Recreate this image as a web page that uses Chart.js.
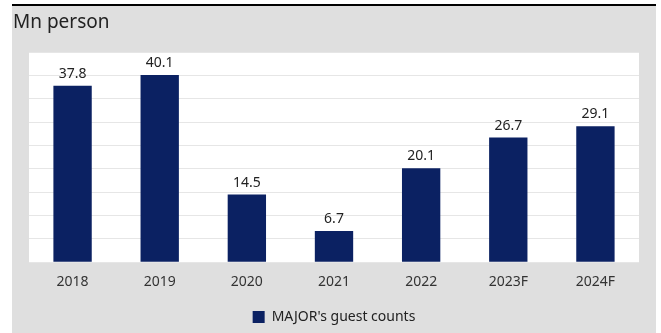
<!DOCTYPE html>
<html>
<head>
<meta charset="utf-8">
<script src="https://cdn.jsdelivr.net/npm/chart.js@4/dist/chart.umd.min.js"></script>
<style>
  html, body { margin: 0; padding: 0; background: #fff; overflow: hidden; }
  #panel {
    position: absolute; left: 12px; top: 4px;
    width: 644px; height: 329px;
    background: #dfdfdf;
    border-top: 2px solid #000;
    box-sizing: border-box;
  }
  #unit {
    position: absolute; left: 1px; top: 2px;
    font: 19px 'Noto Sans', sans-serif; color: #222;
  }
  #wrap { position: absolute; left: 0; top: 0; width: 644px; height: 328px; }
</style>
</head>
<body>
<div id="panel">
  <div id="wrap"><canvas id="guestChart"></canvas></div>
  <div id="unit">Mn person</div>
</div>
<script>
// Guest counts, million persons
const years = ['2018', '2019', '2020', '2021', '2022', '2023F', '2024F'];
const guestCounts = [37.8, 40.1, 14.5, 6.7, 20.1, 26.7, 29.1];
const seriesName = "MAJOR's guest counts";

Chart.defaults.font.family = "'Noto Sans', sans-serif";
Chart.defaults.color = '#333';

// white plot background behind the bars
const plotBg = {
    id: 'plotBg',
    beforeDraw(chart) {
        const a = chart.chartArea;
        const c = chart.ctx;
        c.save();
        c.fillStyle = '#fff';
        c.fillRect(a.left, a.top, a.right - a.left, a.bottom - a.top);
        c.restore();
    }
};

// value labels above each bar
const barValues = {
    id: 'barValues',
    afterDatasetsDraw(chart) {
        const c = chart.ctx;
        const meta = chart.getDatasetMeta(0);
        c.save();
        c.font = "14px 'Noto Sans', sans-serif";
        c.fillStyle = '#222';
        c.textAlign = 'center';
        c.textBaseline = 'alphabetic';
        meta.data.forEach((bar, i) => {
            c.fillText(guestCounts[i].toFixed(1), bar.x, bar.y - 8);
        });
        c.restore();
    }
};

new Chart(document.getElementById('guestChart'), {
    type: 'bar',
    data: {
        labels: years,
        datasets: [{
            label: seriesName,
            data: guestCounts,
            backgroundColor: '#0b2162',
            borderWidth: 0,
            categoryPercentage: 1,
            barPercentage: 0.44
        }]
    },
    options: {
        responsive: true,
        maintainAspectRatio: false,
        animation: false,
        layout: { padding: { left: 17, right: 17, top: 46, bottom: 0 } },
        plugins: {
            legend: {
                position: 'bottom',
                labels: {
                    boxWidth: 12, boxHeight: 12, padding: 17,
                    color: '#222',
                    font: { size: 14 }
                }
            },
            tooltip: { enabled: false }
        },
        scales: {
            x: {
                grid: { display: false },
                border: { display: false },
                ticks: { font: { size: 14, lineHeight: 1.05 }, color: '#333', padding: 4 }
            },
            y: {
                min: 0, max: 45,
                ticks: { display: false, stepSize: 5 },
                border: { display: false },
                grid: { color: '#e6e6e6', lineWidth: 1, drawTicks: false }
            }
        }
    },
    plugins: [plotBg, barValues]
});
</script>
</body>
</html>
